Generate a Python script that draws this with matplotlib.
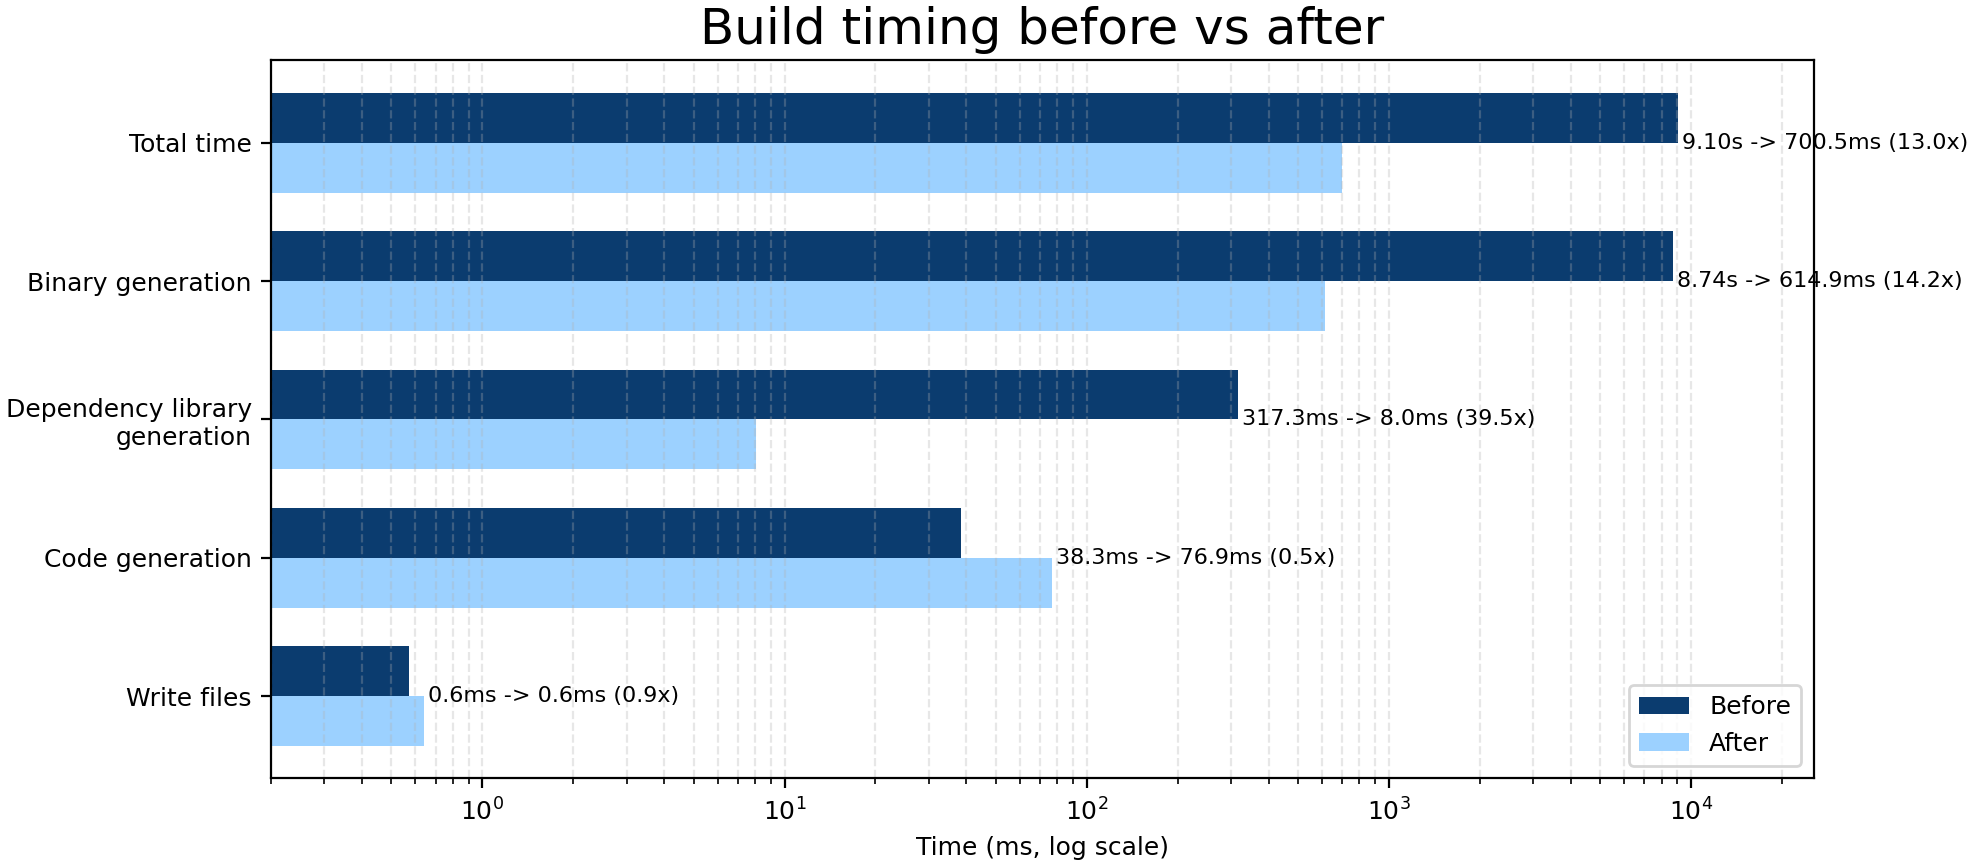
import matplotlib
matplotlib.use("Agg")
import matplotlib.pyplot as plt
import numpy as np

stages = ["Total time", "Binary generation", "Dependency library\ngeneration",
          "Code generation", "Write files"]
before_ms = [9100.0, 8740.0, 317.3, 38.3, 0.57]
after_ms = [700.5, 614.9, 8.03, 76.9, 0.64]


def fmt(ms):
    if ms >= 1000:
        return f"{ms / 1000:.2f}s"
    return f"{ms:.1f}ms"


plt.rcParams["font.size"] = 9

fig, ax = plt.subplots(figsize=(9.9, 4.32), dpi=200)
fig.subplots_adjust(left=0.137, right=0.916, top=0.930, bottom=0.099)

y = np.arange(len(stages))
h = 0.36
ax.barh(y - h / 2, before_ms, height=h, color="#0b3c6f", label="Before")
ax.barh(y + h / 2, after_ms, height=h, color="#9cd1ff", label="After")

for yi, b, a in zip(y, before_ms, after_ms):
    ax.text(max(b, a) * 1.03, yi, f"{fmt(b)} -> {fmt(a)} ({b / a:.1f}x)",
            va="center", ha="left", fontsize=8)

ax.set_xscale("log")
ax.set_xlim(0.2, 25500)
ax.set_yticks(y)
ax.set_yticklabels(stages)
ax.invert_yaxis()
ax.set_xlabel("Time (ms, log scale)")
ax.set_title("Build timing before vs after", fontsize=18)
ax.grid(axis="x", which="both", linestyle="--", alpha=0.3)
ax.legend(loc="lower right")

fig.savefig("out.png", dpi=200)
